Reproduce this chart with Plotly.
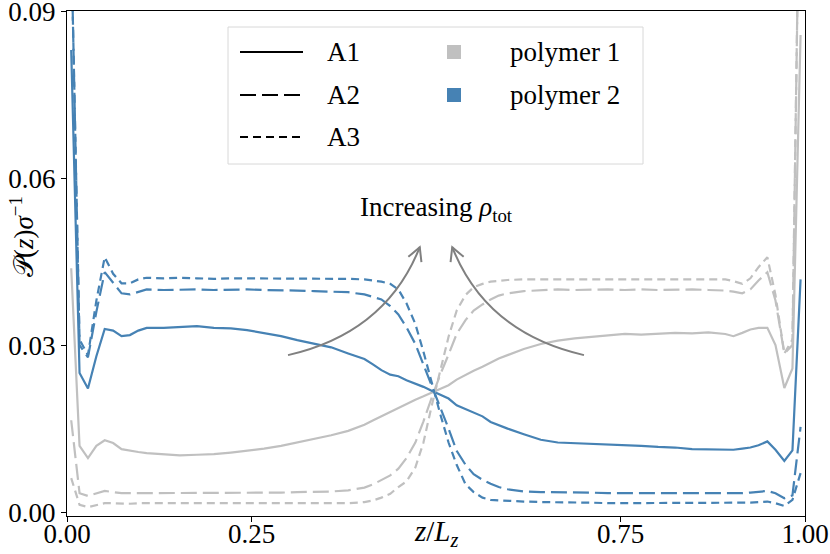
import numpy as np
import plotly.graph_objects as go

# ---------------- data ----------------
z = [0.0057, 0.017, 0.0284, 0.0398, 0.0511, 0.0625, 0.0739, 0.0852, 0.0966, 0.108,
     0.131, 0.153, 0.176, 0.199, 0.222, 0.244, 0.267, 0.29, 0.312, 0.335,
     0.358, 0.381, 0.403, 0.415, 0.426, 0.438, 0.449, 0.46, 0.472, 0.483,
     0.494, 0.506, 0.517, 0.528, 0.54, 0.551, 0.563, 0.574, 0.585, 0.597,
     0.619, 0.642, 0.665, 0.688, 0.71, 0.733, 0.756, 0.778, 0.801, 0.824,
     0.847, 0.869, 0.892, 0.903, 0.915, 0.926, 0.937, 0.949, 0.96, 0.972,
     0.983, 0.994]

p2_A1 = [0.083, 0.025, 0.0222, 0.028, 0.0329, 0.0326, 0.0316, 0.0318, 0.0326, 0.0331,
         0.0331, 0.0332, 0.0334, 0.0331, 0.0330, 0.0327, 0.0322, 0.0316, 0.0309, 0.0302,
         0.0296, 0.0285, 0.0275, 0.0265, 0.0255, 0.0247, 0.0244, 0.0237, 0.0231, 0.0225,
         0.0218, 0.0211, 0.0204, 0.0192, 0.0185, 0.0179, 0.0172, 0.0162, 0.0156, 0.0150,
         0.0140, 0.0130, 0.0125, 0.0124, 0.0122, 0.0121, 0.0120, 0.0119, 0.0117, 0.0116,
         0.0113, 0.0113, 0.0112, 0.0112, 0.0114, 0.0116, 0.0120, 0.0127, 0.0112, 0.0092,
         0.0111, 0.0418]

p1_A1 = [0.0438, 0.0119, 0.0097, 0.0119, 0.0129, 0.0124, 0.0113, 0.0110, 0.0108, 0.0106,
         0.0104, 0.0102, 0.0103, 0.0104, 0.0107, 0.0110, 0.0114, 0.0119, 0.0125, 0.0131,
         0.0138, 0.0146, 0.0157, 0.0165, 0.0172, 0.0180, 0.0187, 0.0195, 0.0202, 0.0208,
         0.0214, 0.0221, 0.0228, 0.0238, 0.0247, 0.0254, 0.0261, 0.0268, 0.0276, 0.0282,
         0.0293, 0.0302, 0.0308, 0.0312, 0.0315, 0.0318, 0.0320, 0.0319, 0.0321, 0.0322,
         0.0321, 0.0323, 0.0320, 0.0316, 0.0322, 0.0328, 0.0331, 0.0331, 0.0300, 0.0223,
         0.0258, 0.0857]

p2_A2 = [0.103, 0.030, 0.0278, 0.036, 0.0431, 0.0411, 0.0393, 0.0391, 0.0396, 0.0400,
         0.0399, 0.0400, 0.0400, 0.0399, 0.0400, 0.0400, 0.0399, 0.0399, 0.0398, 0.0397,
         0.0396, 0.0395, 0.0391, 0.0387, 0.0382, 0.0370, 0.0355, 0.0332, 0.0302, 0.0265,
         0.0228, 0.0190, 0.0150, 0.0110, 0.0085, 0.0068, 0.0058, 0.0051, 0.0045, 0.0041,
         0.0037, 0.0036, 0.0036, 0.0035, 0.0035, 0.0034, 0.0034, 0.0034, 0.0034, 0.0034,
         0.0034, 0.0033, 0.0033, 0.0034, 0.0034, 0.0035, 0.0036, 0.0038, 0.0034, 0.0025,
         0.0030, 0.0153]

p1_A2 = [0.0165, 0.0034, 0.0029, 0.0034, 0.0038, 0.0036, 0.0034, 0.0034, 0.0034, 0.0034,
         0.0034, 0.0034, 0.0034, 0.0034, 0.0034, 0.0035, 0.0035, 0.0035, 0.0036, 0.0036,
         0.0037, 0.0039, 0.0044, 0.0050, 0.0058, 0.0066, 0.0078, 0.0097, 0.0125, 0.0163,
         0.0205, 0.0248, 0.0283, 0.0320, 0.0345, 0.0362, 0.0373, 0.0382, 0.0389, 0.0393,
         0.0397, 0.0399, 0.0400, 0.0399, 0.0400, 0.0400, 0.0399, 0.0400, 0.0399, 0.0400,
         0.0400, 0.0399, 0.0398, 0.0396, 0.0393, 0.0400, 0.0416, 0.0431, 0.0380, 0.0285,
         0.0300, 0.130]

p2_A3 = [0.103, 0.031, 0.0282, 0.038, 0.0458, 0.0428, 0.0411, 0.0411, 0.0418, 0.0421,
         0.0420, 0.0421, 0.0420, 0.0419, 0.0420, 0.0420, 0.0419, 0.0420, 0.0419, 0.0419,
         0.0419, 0.0419, 0.0418, 0.0416, 0.0414, 0.0410, 0.0400, 0.0375, 0.0338, 0.0288,
         0.0232, 0.0175, 0.0125, 0.0085, 0.0050, 0.0036, 0.0026, 0.0022, 0.0021, 0.0020,
         0.0019, 0.0018, 0.0018, 0.0017, 0.0017, 0.0016, 0.0016, 0.0016, 0.0016, 0.0016,
         0.0016, 0.0016, 0.0016, 0.0016, 0.0016, 0.0017, 0.0018, 0.0019, 0.0016, 0.0011,
         0.0022, 0.0070]

p1_A3 = [0.0061, 0.0013, 0.0009, 0.0013, 0.0016, 0.0016, 0.0015, 0.0015, 0.0016, 0.0016,
         0.0016, 0.0016, 0.0016, 0.0016, 0.0016, 0.0016, 0.0016, 0.0016, 0.0016, 0.0016,
         0.0016, 0.0016, 0.0018, 0.0021, 0.0026, 0.0033, 0.0045, 0.0055, 0.0080, 0.0125,
         0.0190, 0.0255, 0.0315, 0.0362, 0.0390, 0.0404, 0.0410, 0.0414, 0.0416, 0.0417,
         0.0418, 0.0418, 0.0418, 0.0418, 0.0418, 0.0418, 0.0418, 0.0418, 0.0418, 0.0418,
         0.0418, 0.0418, 0.0418, 0.0415, 0.0410, 0.0420, 0.0440, 0.0458, 0.0390, 0.0285,
         0.0310, 0.130]

x_ticks = [0.0, 0.25, 0.75, 1.0]
x_ticklabels = ["0.00", "0.25", "0.75", "1.00"]
y_ticks = [0.0, 0.03, 0.06, 0.09]
y_ticklabels = ["0.00", "0.03", "0.06", "0.09"]

series_names = ["A1", "A2", "A3"]
polymer_names = ["polymer 1", "polymer 2"]

# ---------------- styles ----------------
GREY = "#c0c0c0"
BLUE = "#4682b4"
ARROW = "#808080"
DASHES = {"A1": "solid", "A2": "16px,6px", "A3": "8px,5px"}
FONT = "Liberation Serif"
FS = 27

W, H = 830, 554
L, R, T, B = 67, 25, 11, 38
PW, PH = W - L - R, H - T - B
YMIN, YMAX = -0.0007, 0.09002


def px2paper(px, py):
    return (px - L) / PW, (H - B - py) / PH


def data_per_px():
    return 1.0 / PW, (YMAX - YMIN) / PH


fig = go.Figure()

data = {
    "A1": (p1_A1, p2_A1),
    "A2": (p1_A2, p2_A2),
    "A3": (p1_A3, p2_A3),
}
for name in series_names:
    g, b = data[name]
    fig.add_trace(go.Scatter(x=z, y=g, mode="lines", showlegend=False, hoverinfo="skip",
                             line=dict(color=GREY, width=2.2, dash=DASHES[name])))
    fig.add_trace(go.Scatter(x=z, y=b, mode="lines", showlegend=False, hoverinfo="skip",
                             line=dict(color=BLUE, width=2.2, dash=DASHES[name])))

shapes = []
annotations = []

# ---------------- curved arrows ----------------
dzpp, dypp = data_per_px()
arrows = [
    ((0.2995, 0.0282), (0.432, 0.0322), (0.478, 0.0476)),
    ((0.7005, 0.0282), (0.568, 0.0322), (0.522, 0.0476)),
]
for (x0, y0), (cx, cy), (x1, y1) in arrows:
    shapes.append(dict(type="path", xref="x", yref="y",
                       path=f"M {x0},{y0} Q {cx},{cy} {x1},{y1}",
                       line=dict(color=ARROW, width=2)))
    dx = (x1 - cx) / dzpp
    dy = (y1 - cy) / dypp
    n = np.hypot(dx, dy)
    ux, uy = -dx / n, -dy / n
    arm = 15.0
    ang = np.deg2rad(28)
    pts = []
    for s in (1, -1):
        rx = ux * np.cos(s * ang) - uy * np.sin(s * ang)
        ry = ux * np.sin(s * ang) + uy * np.cos(s * ang)
        pts.append((x1 + rx * arm * dzpp, y1 + ry * arm * dypp))
    shapes.append(dict(type="path", xref="x", yref="y",
                       path=f"M {pts[0][0]},{pts[0][1]} L {x1},{y1} L {pts[1][0]},{pts[1][1]}",
                       line=dict(color=ARROW, width=2)))

annotations.append(dict(x=0.5, y=0.0545, xref="x", yref="y",
                        text="Increasing <i>ρ</i><sub>tot</sub>", showarrow=False,
                        font=dict(family=FONT, size=FS, color="black"),
                        xanchor="center", yanchor="middle"))

# ---------------- legend (drawn manually) ----------------
bx0, by0 = px2paper(228, 164)
bx1, by1 = px2paper(643, 27)
shapes.append(dict(type="rect", xref="paper", yref="paper", x0=bx0, y0=by0, x1=bx1, y1=by1,
                   line=dict(color="#d8d8d8", width=1), fillcolor="rgba(255,255,255,0.85)",
                   layer="above"))
rows_py = [52, 95, 137]
for name, py in zip(series_names, rows_py):
    lx0, ly = px2paper(240, py)
    lx1, _ = px2paper(303, py)
    shapes.append(dict(type="line", xref="paper", yref="paper", x0=lx0, x1=lx1, y0=ly, y1=ly,
                       line=dict(color="black", width=2.2, dash=DASHES[name]), layer="above"))
    tx, ty = px2paper(325, py)
    annotations.append(dict(x=tx, y=ty, xref="paper", yref="paper", text=name, showarrow=False,
                            xanchor="left", yanchor="middle",
                            font=dict(family=FONT, size=FS, color="black")))
for pname, col, py in zip(polymer_names, [GREY, BLUE], rows_py[:2]):
    sx0, sy0 = px2paper(447, py + 7)
    sx1, sy1 = px2paper(461, py - 7)
    shapes.append(dict(type="rect", xref="paper", yref="paper", x0=sx0, y0=sy0, x1=sx1, y1=sy1,
                       line=dict(width=0), fillcolor=col, layer="above"))
    tx, ty = px2paper(508, py)
    annotations.append(dict(x=tx, y=ty, xref="paper", yref="paper", text=pname, showarrow=False,
                            xanchor="left", yanchor="middle",
                            font=dict(family=FONT, size=FS, color="black")))

# ---------------- axis labels ----------------
xlx, xly = px2paper(437, 533)
annotations.append(dict(x=0.5, y=xly, xref="x", yref="paper",
                        text="<i>z</i>/<i>L</i><sub><i>z</i></sub>", showarrow=False,
                        xanchor="center", yanchor="middle",
                        font=dict(family=FONT, size=29, color="black")))
ylx, yly = px2paper(22, 237)
annotations.append(dict(x=ylx, y=yly, xref="paper", yref="paper",
                        text="𝒫(<i>z</i>)<i>σ</i><sup>−1</sup>", showarrow=False,
                        textangle=-90, xanchor="center", yanchor="middle",
                        font=dict(family=FONT, size=FS, color="black")))

fig.update_layout(
    width=W, height=H,
    margin=dict(l=L, r=R, t=T, b=B, autoexpand=False),
    paper_bgcolor="white", plot_bgcolor="white",
    showlegend=False,
    shapes=shapes, annotations=annotations,
    font=dict(family=FONT, size=FS, color="black"),
)
fig.update_xaxes(range=[0, 1], tickvals=x_ticks, ticktext=x_ticklabels,
                 showgrid=False, zeroline=False, showline=True, linecolor="black", linewidth=1,
                 mirror=True, ticks="outside", ticklen=5, tickcolor="black", tickwidth=1,
                 ticklabeloverflow="allow", automargin=False, ticklabelstandoff=-11,
                 tickfont=dict(family=FONT, size=FS, color="black"))
fig.update_yaxes(range=[YMIN, YMAX], tickvals=y_ticks, ticktext=y_ticklabels,
                 showgrid=False, zeroline=False, showline=True, linecolor="black", linewidth=1,
                 mirror=True, ticks="outside", ticklen=5, tickcolor="black", tickwidth=1,
                 ticklabeloverflow="allow", automargin=False,
                 tickfont=dict(family=FONT, size=FS, color="black"))

fig.write_html("out.html", config={"displayModeBar": False},
               post_script="document.body.style.margin='0';document.body.style.padding='0';")
